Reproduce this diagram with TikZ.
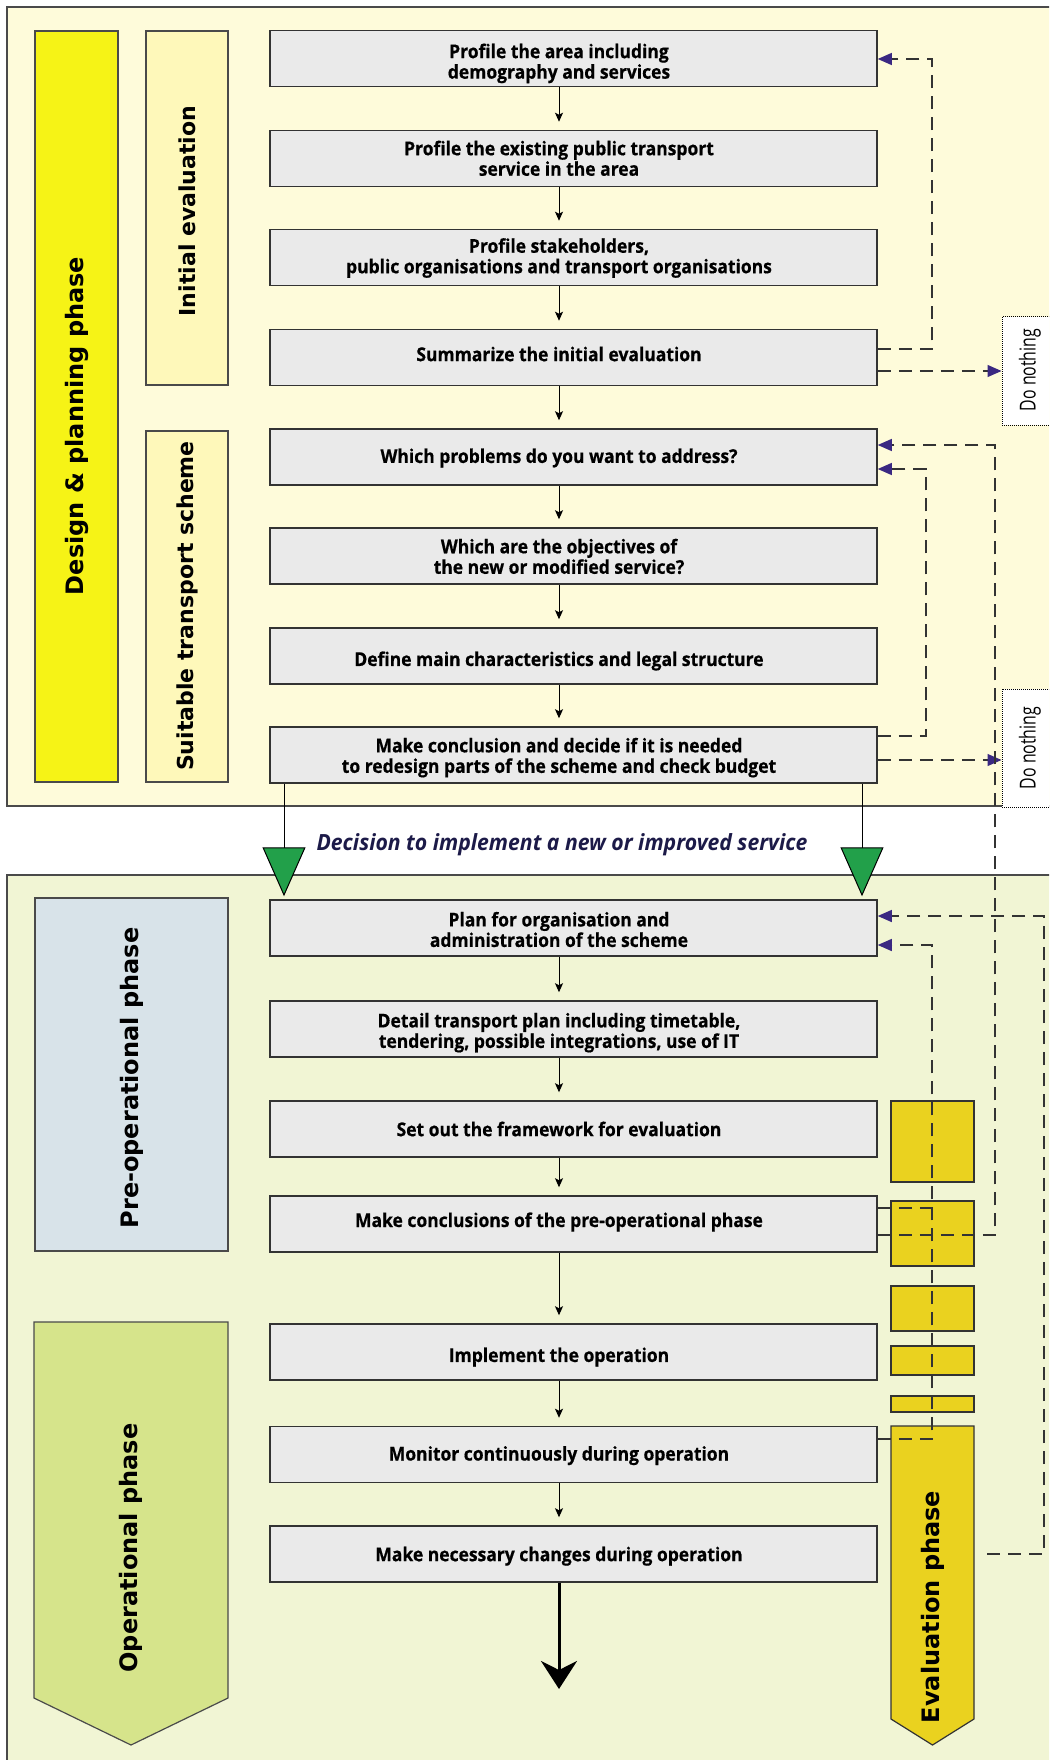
\documentclass[tikz,border=0pt]{standalone}
\usepackage{fontspec}
\setmainfont{Open Sans}
\newfontfamily\boxfont[FakeStretch=0.92,FakeBold=0.6]{Open Sans}
\newfontfamily\decfont[FakeStretch=0.95]{Open Sans}
\newfontfamily\phasefont{DejaVu Sans}
\newfontfamily\dnfont[FakeStretch=0.72]{Open Sans}
\usetikzlibrary{arrows.meta}
\definecolor{topbg}{HTML}{FEFBDA}
\definecolor{botbg}{HTML}{F1F5D4}
\definecolor{designY}{HTML}{F6F316}
\definecolor{subY}{HTML}{FEF8BA}
\definecolor{preop}{HTML}{D8E3E9}
\definecolor{opgreen}{HTML}{D6E48B}
\definecolor{evalY}{HTML}{EAD21F}
\definecolor{boxfill}{HTML}{EAEAEA}
\definecolor{boxline}{HTML}{333333}
\definecolor{panelline}{HTML}{4A4A4A}
\definecolor{dashcol}{HTML}{333333}
\definecolor{tipcol}{HTML}{3A2882}
\definecolor{greenA}{HTML}{22A04A}
\definecolor{navy}{HTML}{1C1A48}
\begin{document}
\begin{tikzpicture}[x=1pt,y=-1pt,
  panel/.style={draw=panelline,line width=1.5pt},
  bar/.style={draw=panelline,line width=1.2pt},
  stepbox/.style={draw=boxline,fill=boxfill,line width=1.5pt,minimum width=607pt,minimum height=56pt,inner sep=0pt},
  boxtxt/.style={font=\boxfont\bfseries\fontsize{19}{20.5}\selectfont,align=center,inner sep=0pt,text=black},
  phasetxt/.style={font=\phasefont\bfseries\fontsize{24}{28}\selectfont,rotate=90,inner sep=0pt},
  subtxt/.style={font=\phasefont\bfseries\fontsize{22}{26}\selectfont,rotate=90,inner sep=0pt},
  dnbox/.style={draw=black,densely dotted,fill=white,line width=1pt,minimum width=60pt,inner sep=0pt},
  dntxt/.style={font=\dnfont\fontsize{22}{24}\selectfont,rotate=90,inner sep=0pt},
  link/.style={draw=black,line width=1pt,-{Stealth[length=9pt,width=8pt,inset=2pt]},shorten >=8pt},
  fbline/.style={draw=dashcol,line width=1.2pt,dash pattern=on 13pt off 8pt},
  fb/.style={fbline,-{Triangle[length=14pt,width=12pt,color=tipcol]}},
  greenarr/.style={draw=black,line width=1pt,-{Triangle[length=49pt,width=43pt,fill=greenA]},shorten >=3pt},
  bigarr/.style={draw=black,line width=3pt,-{Stealth[length=28pt,width=36pt,inset=9pt]}},
  evalbox/.style={draw=boxline,fill=evalY,line width=1.2pt}
]
\useasboundingbox (0,0) rectangle (1049,1760);
\clip (0,0) rectangle (1049,1760);

% panels
\draw[panel,fill=topbg] (7,7) rectangle (1070,806);
\draw[panel,fill=botbg] (7,875) rectangle (1070,1780);

% left bars, top panel
\draw[bar,fill=designY] (35,31) rectangle (118,782);
\node[phasetxt] (design) at (76.5,426) {Design \& planning phase};
\draw[bar,fill=subY] (146,31) rectangle (228,385);
\node[subtxt] (initev) at (187,211) {Initial evaluation};
\draw[bar,fill=subY] (146,431) rectangle (228,782);
\node[subtxt] (suitable) at (187,606) {Suitable transport scheme};

% left bars, bottom panel
\draw[bar,fill=preop] (35,898) rectangle (228,1251);
\node[phasetxt] (preoptxt) at (131.5,1078) {Pre-operational phase};
\draw[bar,fill=opgreen] (34,1322) -- (228,1322) -- (228,1698) -- (131,1745) -- (34,1698) -- cycle;
\node[phasetxt] (optxt) at (131,1548) {Operational phase};

% evaluation column
\draw[evalbox] (891,1101) rectangle (974,1182);
\draw[evalbox] (891,1201) rectangle (974,1266);
\draw[evalbox] (891,1286) rectangle (974,1331);
\draw[evalbox] (891,1346) rectangle (974,1375);
\draw[evalbox] (891,1396) rectangle (974,1412);
\draw[evalbox] (891,1426) -- (974,1426) -- (974,1719) -- (932.5,1745) -- (891,1719) -- cycle;
\node[phasetxt] (evtxt) at (932.5,1607) {Evaluation phase};
\coordinate (evR) at (987,1554);

% do nothing boxes
\node[dnbox,minimum height=108pt] (dn1) at (1032,371) {};
\node[dntxt] (dn1t) at (1030,370) {Do nothing};
\node[dnbox,minimum height=118pt] (dn2) at (1032,748) {};
\node[dntxt] (dn2t) at (1030,748) {Do nothing};

% step boxes, top panel
\node[stepbox] (b1) at (573.5,58.5) {};
\node[boxtxt] (b1t) at (559,63.4) {Profile the area including\\demography and services};
\node[stepbox] (b2) at (573.5,158.5) {};
\node[boxtxt] (b2t) at (559,158.3) {Profile the existing public transport\\service in the area};
\node[stepbox] (b3) at (573.5,257.5) {};
\node[boxtxt] (b3t) at (559,258) {Profile stakeholders,\\public organisations and transport organisations};
\node[stepbox] (b4) at (573.5,357.5) {};
\node[boxtxt] (b4t) at (559,354) {Summarize the initial evaluation};
\node[stepbox] (b5) at (573.5,457) {};
\node[boxtxt] (b5t) at (559,458) {Which problems do you want to address?};
\node[stepbox] (b6) at (573.5,556) {};
\node[boxtxt] (b6t) at (559,556.4) {Which are the objectives of\\the new or modified service?};
\node[stepbox] (b7) at (573.5,656) {};
\node[boxtxt] (b7t) at (559,661) {Define main characteristics and legal structure};
\node[stepbox] (b8) at (573.5,755) {};
\node[boxtxt] (b8t) at (559,757.6) {Make conclusion and decide if it is needed\\to redesign parts of the scheme and check budget};

% step boxes, bottom panel
\node[stepbox] (p1) at (573.5,928) {};
\node[boxtxt] (p1t) at (559,929.5) {Plan for organisation and\\administration of the scheme};
\node[stepbox] (p2) at (573.5,1029) {};
\node[boxtxt] (p2t) at (559,1032.7) {Detail transport plan including timetable,\\tendering, possible integrations, use of IT};
\node[stepbox] (p3) at (573.5,1129) {};
\node[boxtxt] (p3t) at (559,1129) {Set out the framework for evaluation};
\node[stepbox] (p4) at (573.5,1224) {};
\node[boxtxt] (p4t) at (559,1222) {Make conclusions of the pre-operational phase};
\node[stepbox] (im) at (573.5,1352) {};
\node[boxtxt] (imt) at (559,1357) {Implement the operation};
\node[stepbox] (mon) at (573.5,1454.5) {};
\node[boxtxt] (mont) at (559,1455.6) {Monitor continuously during operation};
\node[stepbox] (mk) at (573.5,1554) {};
\node[boxtxt] (mkt) at (559,1556.2) {Make necessary changes during operation};

% links
\draw[link] (b1.south -| b1t) -- (b2.north -| b1t);
\draw[link] (b2.south -| b1t) -- (b3.north -| b1t);
\draw[link] (b3.south -| b1t) -- (b4.north -| b1t);
\draw[link] (b4.south -| b1t) -- (b5.north -| b1t);
\draw[link] (b5.south -| b1t) -- (b6.north -| b1t);
\draw[link] (b6.south -| b1t) -- (b7.north -| b1t);
\draw[link] (b7.south -| b1t) -- (b8.north -| b1t);
\draw[link] (p1.south -| b1t) -- (p2.north -| b1t);
\draw[link] (p2.south -| b1t) -- (p3.north -| b1t);
\draw[link] (p3.south -| b1t) -- (p4.north -| b1t);
\draw[link] (p4.south -| b1t) -- (im.north -| b1t);
\draw[link] (im.south -| b1t) -- (mon.north -| b1t);
\draw[link] (mon.south -| b1t) -- (mk.north -| b1t);

% decision
\node[font=\decfont\bfseries\itshape\fontsize{22.3}{24}\selectfont,text=navy,inner sep=0pt] (dec) at (562,845) {Decision to implement a new or improved service};
\draw[greenarr] (b8.south -| 284,0) -- (p1.north -| 284,0);
\draw[greenarr] (b8.south -| 862,0) -- (p1.north -| 862,0);

% final arrow
\coordinate (endpt) at (559,1689);
\draw[bigarr] (mk.south -| endpt) -- (endpt);

% feedback loops
\draw[fb] (b4.east |- 0,349) -| (932,59) -- (b1.east |- 0,59);
\draw[fb] (b4.east |- 0,371) -- (dn1.west |- 0,371);
\draw[fb] (b8.east |- 0,736) -| (926,469) -- (b5.east |- 0,469);
\draw[fb] (b8.east |- 0,760) -- (dn2.west |- 0,760);
\draw[fb] (p4.east |- 0,1235) -| (995,445) -- (b5.east |- 0,445);
\draw[fbline] (p4.east |- 0,1208) -- (932,1208);
\draw[fb] (mon.east |- 0,1439) -| (932,945) -- (p1.east |- 0,945);
\draw[fb] (evR) -| (1044,916) -- (p1.east |- 0,916);
\end{tikzpicture}
\end{document}
